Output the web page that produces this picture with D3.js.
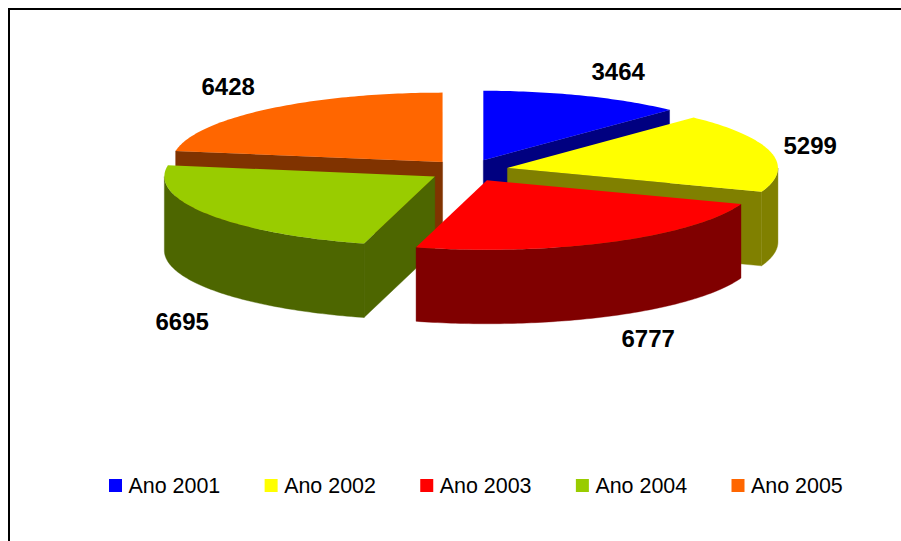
<!DOCTYPE html>
<html><head><meta charset="utf-8">
<script src="https://cdn.jsdelivr.net/npm/d3@7/dist/d3.min.js"></script>
<style>html,body{margin:0;padding:0;background:#fff}svg{display:block}text{font-family:"Liberation Sans",Arial,sans-serif;fill:#000}</style>
</head><body><svg id="c" width="901" height="541"></svg>
<script>
const categories = ["Ano 2001","Ano 2002","Ano 2003","Ano 2004","Ano 2005"];
const values = [3464,5299,6777,6695,6428];
const topColors = ["#0000ff","#ffff00","#ff0000","#99cc00","#ff6600"];
const sideColors = ["#000080","#808000","#800000","#4d6600","#803300"];

const W=901,H=541;
const cx=468.5,cy=170.5,rx=270.5,ry=69.5,depth=74,ex=40,ey=11;
const svg=d3.select("#c");
svg.append("path").attr("d",`M9 ${H}V9H${W}`).attr("fill","none").attr("stroke","#000").attr("stroke-width",2);

const pie=d3.pie().sort(null).value(d=>d);
const arcs=pie(values).map((a,i)=>({...a,i}));
const PI=Math.PI;
const line=d3.line();
arcs.forEach(a=>{
  const mid=(a.startAngle+a.endAngle)/2;
  a.ox=cx+ex*Math.sin(mid); a.oy=cy-ey*Math.cos(mid);
  a.pt=(t,dz=0)=>[a.ox+rx*Math.sin(t),a.oy-ry*Math.cos(t)+dz];
  a.samples=(t0,t1,dz=0)=>{const n=Math.max(2,Math.ceil((t1-t0)*60));return d3.range(n+1).map(k=>a.pt(t0+(t1-t0)*k/n,dz));};
});
// back-to-front drawing order
const order=[4,0,1,3,2];
order.forEach(i=>{
  const a=arcs[i];
  const g=svg.append("g");
  const side=sideColors[i];
  const quad=t=>{const p=a.pt(t),q=a.pt(t,depth);
    g.append("path").attr("d",line([[a.ox,a.oy],p,q,[a.ox,a.oy+depth]])+"Z").attr("fill",side).attr("stroke",side).attr("stroke-width",.4);};
  if(a.startAngle>PI) quad(a.startAngle);
  if(a.endAngle<PI) quad(a.endAngle);
  const t0=Math.max(a.startAngle,PI/2),t1=Math.min(a.endAngle,3*PI/2);
  if(t1>t0){
    const pts=a.samples(t0,t1).concat(a.samples(t0,t1,depth).reverse());
    g.append("path").attr("d",line(pts)+"Z").attr("fill",side).attr("stroke",side).attr("stroke-width",.4);
  }
  const topPts=[[a.ox,a.oy]].concat(a.samples(a.startAngle,a.endAngle));
  g.append("path").attr("d",line(topPts)+"Z").attr("fill",topColors[i]);
});

// value labels (left edge, baseline)
const labelX=[591.5,783.5,621.5,155.5,201.5], labelY=[80,154,347,330,95];
svg.selectAll(".v").data(values).join("text").attr("class","v")
  .attr("x",(d,i)=>labelX[i]).attr("y",(d,i)=>labelY[i])
  .attr("font-size",24).attr("font-weight","bold").text(d=>d);

// legend
const lx=d3.scalePoint().domain(categories).range([109,731.5]);
const lg=svg.selectAll(".l").data(categories).join("g").attr("class","l").attr("transform",d=>`translate(${lx(d)},479)`);
lg.append("rect").attr("width",13).attr("height",13).attr("fill",(d,i)=>topColors[i]);
lg.append("text").attr("x",19.5).attr("y",14).attr("font-size",21.45).text(d=>d);
</script></body></html>
